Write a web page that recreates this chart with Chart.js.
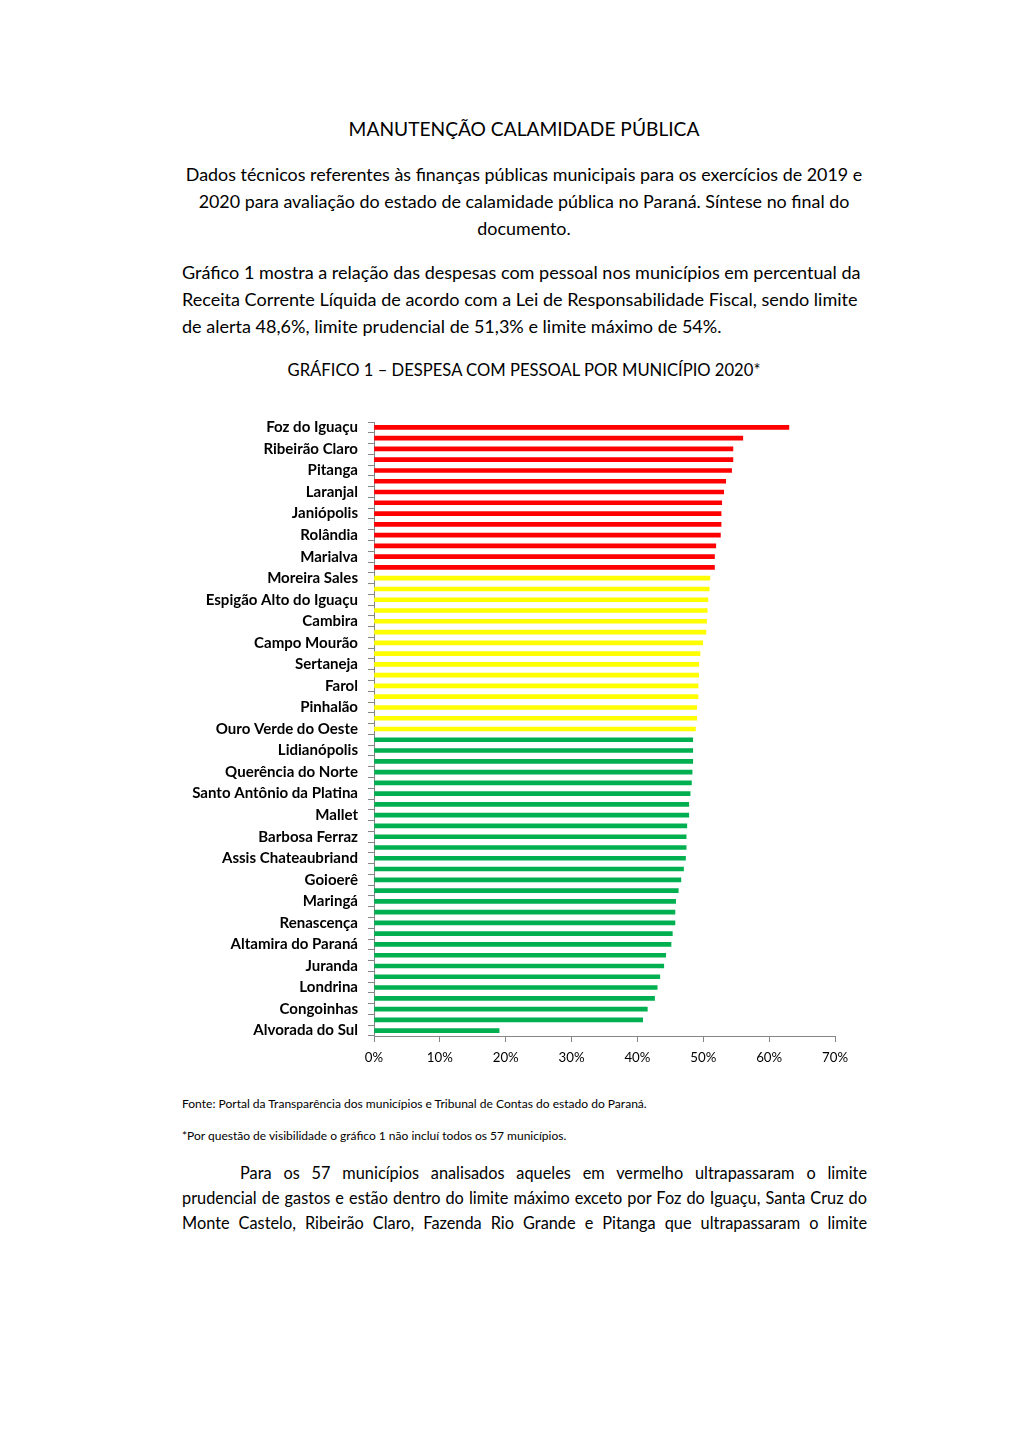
<!DOCTYPE html>
<html><head><meta charset="utf-8">
<script src="https://cdn.jsdelivr.net/npm/chart.js@4.4.0/dist/chart.umd.min.js"></script>
<style>
html,body{margin:0;padding:0;background:#fff;}
body{width:1020px;height:1442px;position:relative;overflow:hidden;font-family:Lato,"Noto Sans",sans-serif;color:#000;}
.ln{position:absolute;white-space:nowrap;line-height:1;transform:translateY(-50%);}
.c{left:0;width:1048px;text-align:center;}
.j{text-align:justify;text-align-last:justify;}
#chartBox{position:absolute;left:180px;top:400px;width:690px;height:675px;}
</style></head>
<body>
<div class="ln c" id="title" style="top:129px">MANUTENÇÃO CALAMIDADE PÚBLICA</div>
<div class="ln c p1" id="p1a" style="top:175px">Dados técnicos referentes às finanças públicas municipais para os exercícios de 2019 e</div>
<div class="ln c p1" style="top:202px">2020 para avaliação do estado de calamidade pública no Paraná. Síntese no final do</div>
<div class="ln c p1" style="top:229px">documento.</div>
<div class="ln p2" id="p2a" style="top:272px;left:182px">Gráfico 1 mostra a relação das despesas com pessoal nos municípios em percentual da</div>
<div class="ln p2" style="top:299px;left:182px">Receita Corrente Líquida de acordo com a Lei de Responsabilidade Fiscal, sendo limite</div>
<div class="ln p2" style="top:326px;left:182px">de alerta 48,6%, limite prudencial de 51,3% e limite máximo de 54%.</div>
<div class="ln c" id="ctitle" style="top:370px">GRÁFICO 1 – DESPESA COM PESSOAL POR MUNICÍPIO 2020*</div>
<div id="chartBox"><canvas id="chart" width="690" height="675"></canvas></div>
<div class="ln" id="fonte" style="top:1104px;left:182px">Fonte: Portal da Transparência dos municípios e Tribunal de Contas do estado do Paraná.</div>
<div class="ln" id="nota" style="top:1136px;left:182px">*Por questão de visibilidade o gráfico 1 não incluí todos os 57 municípios.</div>
<div class="ln j p3" style="top:1173px;left:240px;width:627px">Para os 57 municípios analisados aqueles em vermelho ultrapassaram o limite</div>
<div class="ln j p3" id="p3b" style="top:1198px;left:182px;width:685px">prudencial de gastos e estão dentro do limite máximo exceto por Foz do Iguaçu, Santa Cruz do</div>
<div class="ln j p3" style="top:1223px;left:182px;width:685px">Monte Castelo, Ribeirão Claro, Fazenda Rio Grande e Pitanga que ultrapassaram o limite</div>
<script>
// ---- DATA ----
const municipios = [
 "Foz do Iguaçu","Santa Cruz do Monte Castelo","Ribeirão Claro","Fazenda Rio Grande","Pitanga","",
 "Laranjal","","Janiópolis","","Rolândia","","Marialva","",
 "Moreira Sales","","Espigão Alto do Iguaçu","","Cambira","","Campo Mourão","",
 "Sertaneja","","Farol","","Pinhalão","","Ouro Verde do Oeste","",
 "Lidianópolis","","Querência do Norte","","Santo Antônio da Platina","","Mallet","",
 "Barbosa Ferraz","","Assis Chateaubriand","","Goioerê","","Maringá","",
 "Renascença","","Altamira do Paraná","","Juranda","","Londrina","",
 "Congoinhas","","Alvorada do Sul"
];
const despesa = [
 63.0,56.0,54.5,54.5,54.3,53.4,53.1,52.8,52.7,52.7,52.6,51.9,51.7,51.7,
 51.0,50.9,50.7,50.6,50.5,50.4,49.9,49.5,49.3,49.3,49.2,49.2,49.0,49.0,48.8,
 48.4,48.4,48.4,48.3,48.2,48.0,47.8,47.8,47.5,47.4,47.4,47.3,47.0,46.6,46.2,
 45.8,45.7,45.7,45.3,45.1,44.3,44.0,43.4,43.0,42.6,41.5,40.8,19.0
];
const xTickLabels = ["0%","10%","20%","30%","40%","50%","60%","70%"];
const LIMITE_ALERTA = 48.6, LIMITE_PRUDENCIAL = 51.3;

// ---- text fitting ----
const mctx = document.createElement('canvas').getContext('2d');
function fitSize(text, weight, family, target){
  mctx.font = weight + ' 100px ' + family;
  return 100 * target / mctx.measureText(text).width;
}
function setSize(sel, size){ document.querySelectorAll(sel).forEach(e=>e.style.fontSize=size+'px'); }
const fam = 'Lato';
const txt = id => document.getElementById(id).textContent;
setSize('#title', fitSize(txt('title'),'normal',fam,351));
setSize('.p1', fitSize(txt('p1a'),'normal',fam,677));
const p2size = fitSize(txt('p2a'),'normal',fam,679);
setSize('.p2', p2size);
setSize('.p3', Math.min(p2size, fitSize(txt('p3b'),'normal',fam,672)));
setSize('#ctitle', fitSize(txt('ctitle'),'normal',fam,474));
setSize('#fonte', fitSize(txt('fonte'),'normal',fam,466));
setSize('#nota', fitSize(txt('nota'),'normal',fam,385));
const yFont = fitSize('Santo Antônio da Platina','bold',fam,166);
const xFont = fitSize('10%','normal',fam,26);

const colors = despesa.map(v => v > LIMITE_PRUDENCIAL ? '#FF0000' : (v > LIMITE_ALERTA ? '#FFFF00' : '#00B050'));

new Chart(document.getElementById('chart'), {
  type:'bar',
  data:{ labels: municipios, datasets:[{ data: despesa, backgroundColor: colors, borderWidth:0, barThickness:4 }]},
  options:{
    indexAxis:'y', responsive:false, animation:false, devicePixelRatio:1,
    layout:{ padding:{ top:22, right:35, left:0, bottom:0 } },
    plugins:{ legend:{display:false}, tooltip:{enabled:false} },
    scales:{
      y:{
        type:'category', offset:true,
        grid:{ drawOnChartArea:false, offset:true, tickLength:6, color:'#868686' },
        border:{ color:'#868686', width:1 },
        ticks:{ autoSkip:false, padding:10, color:'#000', font:{ family:fam, weight:'bold', size:yFont },
          callback:(v,i)=> i % 2 === 0 ? municipios[i] : '' },
        afterFit: s => { s.width = 194; }
      },
      x:{
        min:0, max:70,
        ticks:{ stepSize:10, color:'#000', font:{ family:fam, size:xFont }, padding:8,
          callback:(v,i)=> xTickLabels[i] },
        grid:{ drawOnChartArea:false, tickLength:6, color:'#868686' },
        border:{ color:'#868686', width:1 },
        afterFit: s => { s.height = 39; }
      }
    }
  }
});
</script>
</body></html>
